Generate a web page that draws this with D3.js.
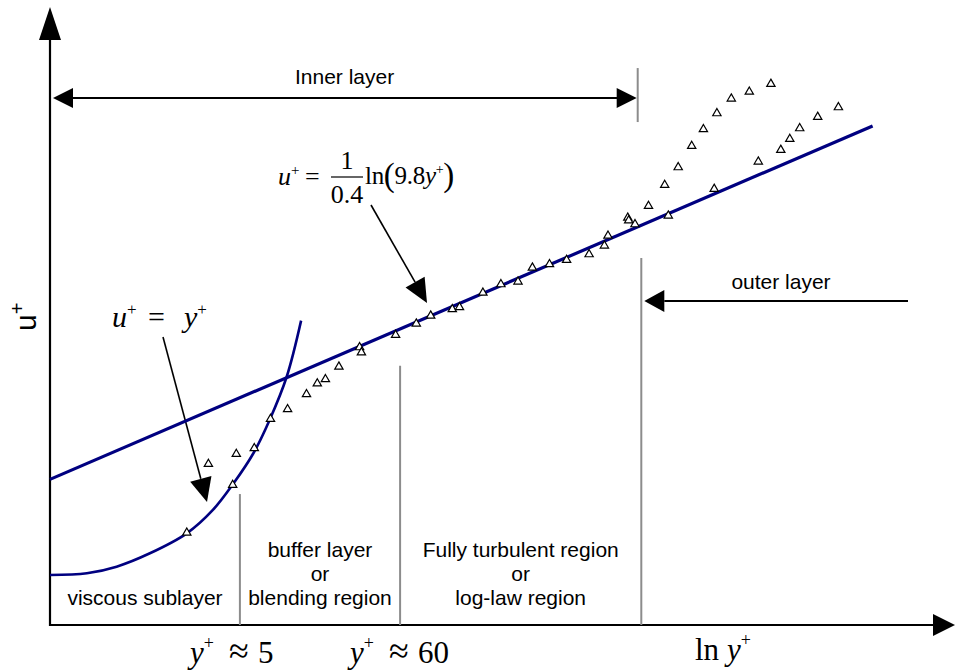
<!DOCTYPE html>
<html>
<head>
<meta charset="utf-8">
<script src="https://cdn.jsdelivr.net/npm/d3@7"></script>
<style>
  html, body { margin: 0; padding: 0; background: #fff; }
  svg { display: block; }
  .sans { font-family: Arial, "Liberation Sans", Helvetica, sans-serif; }
  .serif { font-family: "Times New Roman", "Liberation Serif", Times, serif; }
</style>
</head>
<body>
<svg id="chart" width="956" height="672"></svg>
<script>
// ---------- data (x = ln y+ in schematic units, y = u+) ----------
const logLawLine = [[0, 9.71], [9.14, 33.27]];
const viscousCurve = [
  [0.00, 3.33], [0.41, 3.45], [0.74, 3.89], [1.11, 4.78], [1.52, 6.11],
  [1.81, 7.67], [2.04, 9.45], [2.26, 11.45], [2.44, 13.67], [2.63, 16.55], [2.79, 20.29]
];
const measuredNearWall = [
  [1.52, 6.15], [1.76, 10.73], [2.03, 9.33], [2.07, 11.40], [2.27, 11.78],
  [2.45, 13.73], [2.64, 14.38], [2.85, 15.38], [2.97, 16.10], [3.06, 16.38],
  [3.21, 17.22], [3.44, 18.51], [3.46, 18.17], [3.84, 19.33], [4.07, 20.09],
  [4.23, 20.62], [4.47, 21.05], [4.55, 21.18], [4.81, 22.15], [5.01, 22.71],
  [5.20, 22.89], [5.36, 23.82], [5.55, 24.05], [5.74, 24.33], [5.99, 24.71],
  [6.16, 25.29], [6.20, 25.95], [6.42, 27.15], [6.43, 26.97], [6.50, 26.71]
];
const measuredWakeA = [
  [6.65, 27.93], [6.83, 29.33], [6.98, 30.51], [7.13, 31.93], [7.26, 33.05],
  [7.41, 34.11], [7.57, 35.09], [7.77, 35.55], [8.01, 36.07]
];
const measuredWakeB = [
  [6.87, 27.29], [7.38, 29.07], [7.87, 30.89], [8.12, 31.67], [8.22, 32.40],
  [8.33, 33.11], [8.53, 33.87], [8.76, 34.51]
];
// region boundaries (x) and heights of separator lines (u+)
const boundaryX = [2.11, 3.89, 6.57];
const boundaryTop = [8.73, 17.29, 24.47];
const regionLabels = [
  ["viscous sublayer"],
  ["buffer layer", "or", "blending region"],
  ["Fully turbulent region", "or", "log-law region"]
];
const innerLayerLabel = "Inner layer";
const outerLayerLabel = "outer layer";
const yPlusMarks = ["5", "60"];

// ---------- scales ----------
const svg = d3.select("#chart");
const x = d3.scaleLinear().domain([0, 10]).range([50, 950]);
const y = d3.scaleLinear().domain([0, 40]).range([625, 25]);

const NAVY = "#000080";
const GRAY = "#8c8c8c";

function arrowHead(g, fx, fy, tx, ty, len, half) {
  const dx = tx - fx, dy = ty - fy, L = Math.hypot(dx, dy);
  const ux = dx / L, uy = dy / L;
  const bx = tx - ux * len, by = ty - uy * len;
  const px = -uy, py = ux;
  g.append("path")
    .attr("d", `M${tx},${ty}L${bx + px * half},${by + py * half}L${bx - px * half},${by - py * half}Z`)
    .attr("fill", "#000");
  return [bx, by];
}
function arrow(g, fx, fy, tx, ty, len, half, width) {
  const [bx, by] = arrowHead(g, fx, fy, tx, ty, len, half);
  g.append("line").attr("x1", fx).attr("y1", fy).attr("x2", bx).attr("y2", by)
    .attr("stroke", "#000").attr("stroke-width", width);
}

const ann = svg.append("g");

// ---------- axes ----------
const x0 = x(0), yBase = y(0);
arrow(ann, x0, yBase + 1, x0, 7, 33, 11, 2.2);
arrow(ann, x0 - 1, yBase, 955, yBase, 22, 11, 2.2);

// ---------- separators ----------
svg.append("g").selectAll("line").data(boundaryX).join("line")
  .attr("x1", d => x(d)).attr("x2", d => x(d))
  .attr("y1", yBase).attr("y2", (d, i) => y(boundaryTop[i]))
  .attr("stroke", GRAY).attr("stroke-width", 2);

svg.append("line")
  .attr("x1", x(6.53)).attr("x2", x(6.53)).attr("y1", y(37.13)).attr("y2", y(33.53))
  .attr("stroke", GRAY).attr("stroke-width", 2);

// ---------- curves ----------
const line = d3.line().x(d => x(d[0])).y(d => y(d[1]));
svg.append("path").datum(logLawLine).attr("d", line)
  .attr("fill", "none").attr("stroke", NAVY).attr("stroke-width", 3.2);
svg.append("path").datum(viscousCurve).attr("d", line.curve(d3.curveCatmullRom))
  .attr("fill", "none").attr("stroke", NAVY).attr("stroke-width", 2.6);

// ---------- measured points ----------
const tri = d3.symbol().type(d3.symbolTriangle).size(30);
const allPts = measuredNearWall.concat(measuredWakeA, measuredWakeB);
svg.append("g").selectAll("path").data(allPts).join("path")
  .attr("d", tri)
  .attr("transform", d => `translate(${x(d[0])},${y(d[1])})`)
  .attr("fill", "#fff").attr("stroke", "#000").attr("stroke-width", 1.2);

// ---------- inner / outer layer arrows ----------
const innerY = 98;
const iL = x0 + 3, iR = x(6.53) - 1;
arrowHead(ann, iR, innerY, iL, innerY, 20, 10);
arrowHead(ann, iL, innerY, iR, innerY, 20, 10);
ann.append("line").attr("x1", iL + 19).attr("x2", iR - 19).attr("y1", innerY).attr("y2", innerY)
  .attr("stroke", "#000").attr("stroke-width", 1.8);
svg.append("text").attr("class", "sans").attr("x", 295).attr("y", 84)
  .attr("font-size", 21).text(innerLayerLabel);

arrow(ann, 908, 301, x(6.57) + 3, 301, 20, 11, 1.8);
svg.append("text").attr("class", "sans").attr("x", 781).attr("y", 289)
  .attr("text-anchor", "middle").attr("font-size", 21).text(outerLayerLabel);

// ---------- region labels ----------
const edges = [x0].concat(boundaryX.map(x));
regionLabels.forEach((lines, i) => {
  const cx = i === 0 ? 145 : (edges[i] + edges[i + 1]) / 2;
  const startY = 605 - (lines.length - 1) * 24;
  const t = svg.append("text").attr("class", "sans").attr("font-size", 21)
    .attr("text-anchor", "middle");
  lines.forEach((s, j) => t.append("tspan").attr("x", cx).attr("y", startY + j * 24).text(s));
});

// ---------- y label ----------
const yl = svg.append("text").attr("class", "sans").attr("font-size", 30)
  .attr("transform", "translate(36,331) rotate(-90)");
yl.append("tspan").text("u");
yl.append("tspan").attr("font-size", 20).attr("dy", -12).text("+");

// ---------- equations ----------
const e1 = svg.append("text").attr("class", "serif").attr("font-size", 30).attr("x", 112).attr("y", 327);
e1.append("tspan").attr("font-style", "italic").text("u");
e1.append("tspan").attr("font-size", 17).attr("dy", -12).text("+");
e1.append("tspan").attr("dy", 12).attr("x", 148).text("=");
e1.append("tspan").attr("font-style", "italic").attr("x", 184).text("y");
e1.append("tspan").attr("font-size", 17).attr("dy", -12).text("+");
arrow(ann, 163, 337, 207, 502, 24, 11, 1.6);

const eq = svg.append("g").attr("class", "serif");
const e2 = eq.append("text").attr("font-size", 26).attr("x", 278).attr("y", 185);
e2.append("tspan").attr("font-style", "italic").text("u");
e2.append("tspan").attr("font-size", 15).attr("dy", -10).text("+");
e2.append("tspan").attr("dy", 10).attr("x", 305).text("=");
eq.append("text").attr("font-size", 26).attr("x", 347).attr("y", 169).attr("text-anchor", "middle").text("1");
eq.append("line").attr("x1", 331).attr("x2", 363).attr("y1", 177).attr("y2", 177)
  .attr("stroke", "#000").attr("stroke-width", 1.2);
eq.append("text").attr("font-size", 26).attr("x", 347).attr("y", 203).attr("text-anchor", "middle").text("0.4");
const e3 = eq.append("text").attr("font-size", 25).attr("x", 365).attr("y", 184)
  .attr("letter-spacing", -0.3);
e3.append("tspan").text("ln");
e3.append("tspan").attr("font-size", 33).attr("dy", 2).text("(");
e3.append("tspan").attr("dy", -2).text("9.8");
e3.append("tspan").attr("font-style", "italic").text("y");
e3.append("tspan").attr("font-size", 14).attr("dy", -10).text("+");
e3.append("tspan").attr("font-size", 33).attr("dy", 12).text(")");
arrow(ann, 371, 205, 427, 303, 24, 11, 1.6);

// ---------- bottom labels ----------
function yApprox(xp, val) {
  const t = svg.append("text").attr("class", "serif").attr("font-size", 31).attr("y", 663);
  t.append("tspan").attr("x", xp).attr("font-style", "italic").text("y");
  t.append("tspan").attr("font-size", 18).attr("dy", -14).text("+");
  t.append("tspan").attr("dy", 14).attr("x", xp + 39).attr("font-size", 36).text("\u2248");
  t.append("tspan").attr("x", xp + 68).text(val);
}
yApprox(190, yPlusMarks[0]);
yApprox(350, yPlusMarks[1]);
const lnl = svg.append("text").attr("class", "serif").attr("font-size", 31).attr("x", 695).attr("y", 660);
lnl.append("tspan").text("ln ");
lnl.append("tspan").attr("font-style", "italic").text("y");
lnl.append("tspan").attr("font-size", 18).attr("dy", -14).text("+");
</script>
</body>
</html>
